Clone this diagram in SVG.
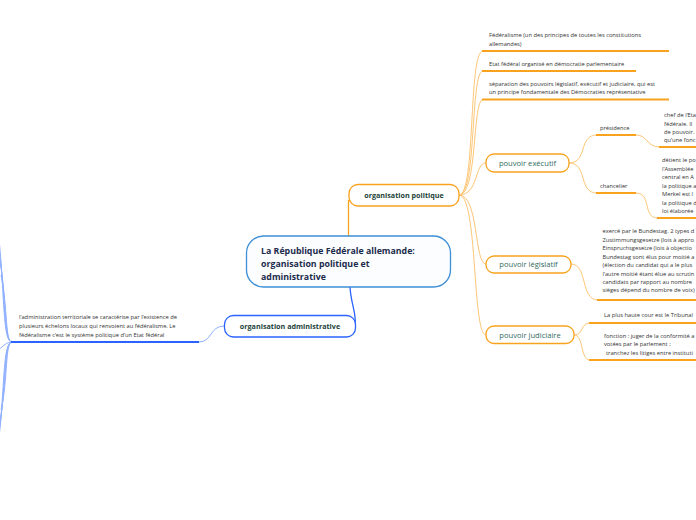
<svg xmlns="http://www.w3.org/2000/svg" width="696" height="520" viewBox="0 0 696 520">
<style>
.t{font-family:"Open Sans","Noto Sans","Liberation Sans",sans-serif;font-size:5.75px;fill:#333333}
.n{font-family:"Open Sans","Noto Sans","Liberation Sans",sans-serif;font-size:7.6px;fill:#2f6b5e}
.b{font-family:"Open Sans","Noto Sans","Liberation Sans",sans-serif;font-size:7.2px;font-weight:bold;fill:#1b4238}
.c{font-family:"Open Sans","Noto Sans","Liberation Sans",sans-serif;font-size:8.8px;font-weight:bold;fill:#1c2b4b}
.oc{fill:none;stroke:#fdc677;stroke-width:1}
.ou{fill:none;stroke:#f9a21e;stroke-width:2}
.ob{fill:#ffffff;stroke:#f9a21e;stroke-width:1.3}
.bc{fill:none;stroke:#8fb0ff;stroke-width:1}
.bu{fill:none;stroke:#2a63ff;stroke-width:2}
</style>
<rect width="696" height="520" fill="#ffffff"/>
<g id="connectors">
  <path d="M348.5,236 V200" stroke="#f9a21e" stroke-width="1.3" fill="none"/>
  <path d="M350,287 C351,305 357,314 355,326" stroke="#2a63ff" stroke-width="1.3" fill="none"/>
  <path class="oc" d="M459,195 C476,195 468,51 483,51"/>
  <path class="oc" d="M459,195 C477,195 470,71 483,71"/>
  <path class="oc" d="M459,195 C478,195 472,99.5 483,99.5"/>
  <path class="oc" d="M459,195 C479,195 474,163 486,163"/>
  <path class="oc" d="M459,195 C479,195 474,264 486,264"/>
  <path class="oc" d="M459,195 C478,195 472,335 486,335"/>
  <path class="oc" d="M569,163 C588,163 578,135 597,135"/>
  <path class="oc" d="M569,163 C588,163 578,193 597,193"/>
  <path class="oc" d="M636,135 C648,135 646,147 660,147"/>
  <path class="oc" d="M636,193 C652,193 642,218 658,218"/>
  <path class="oc" d="M571,264 C588,264 580,300 598,300"/>
  <path class="oc" d="M574,335 C584,335 580,323 590,323"/>
  <path class="oc" d="M574,335 C584,335 580,360 590,360"/>
  <path class="bc" d="M224,326 C210,326 212,342 199,342"/>
  <path class="bc" d="M12,342 C2,342 5,290 -2,230"/>
  <path class="bc" d="M12,342 C3,342 6,295 -1,250"/>
  <path class="bc" d="M12,342 C4,342 7,300 0,262"/>
  <path class="bc" d="M12,342 C5,342 8,310 1,275"/>
  <path class="bc" d="M12,342 C6,342 4,346 -2,350"/>
  <path class="bc" d="M12,342 C5,342 8,380 1,410"/>
  <path class="bc" d="M12,342 C4,342 7,385 0,420"/>
  <path class="bc" d="M12,342 C3,342 6,390 -1,432"/>
  <path class="bc" d="M12,342 C2,342 5,395 -2,445"/>
</g>
<g id="center">
  <rect x="246.5" y="236" width="204" height="51" rx="17" fill="#fbfdff" stroke="#3d8fd6" stroke-width="1.3"/>
  <text class="c" x="261" y="253.5">La République Fédérale allemande:</text>
  <text class="c" x="261" y="266.5">organisation politique et</text>
  <text class="c" x="261" y="279.5">administrative</text>
</g>
<g id="org-politique">
  <rect x="349" y="184.5" width="110" height="21.5" rx="9" class="ob"/>
  <text class="b" x="404" y="198" text-anchor="middle">organisation politique</text>
</g>
<g id="org-admin">
  <rect x="224.5" y="315.5" width="131" height="21.5" rx="9" fill="#ffffff" stroke="#2a63ff" stroke-width="1.3"/>
  <text class="b" x="290" y="329" text-anchor="middle">organisation administrative</text>
</g>
<g id="admin-text">
  <text class="t" x="19" y="319">l’administration territoriale se caractérise par l’existence de</text>
  <text class="t" x="19" y="328">plusieurs échelons locaux qui renvoient au fédéralisme. Le</text>
  <text class="t" x="19" y="336.5">fédéralisme c’est le système politique d’un Etat fédéral</text>
  <path class="bu" d="M11,342 H199"/>
</g>
<g id="federalisme">
  <text class="t" x="489" y="37">Fédéralisme (un des principes de toutes les constitutions</text>
  <text class="t" x="489" y="46">allemandes)</text>
  <path class="ou" d="M482,51 H669"/>
</g>
<g id="etat-federal">
  <text class="t" x="489" y="65.5">Etat fédéral organisé en démocratie parlementaire</text>
  <path class="ou" d="M482,71 H636"/>
</g>
<g id="separation">
  <text class="t" x="489" y="85.5">séparation des pouvoirs législatif, exécutif et judiciaire, qui est</text>
  <text class="t" x="489" y="94">un principe fondamentale des Démocraties représentative</text>
  <path class="ou" d="M482,99.5 H669"/>
</g>
<g id="pouvoir-executif">
  <rect x="486" y="154" width="83" height="18" rx="8" class="ob"/>
  <text class="n" x="527.5" y="165.8" text-anchor="middle">pouvoir exécutif</text>
</g>
<g id="presidence">
  <text class="t" x="600" y="129.8">présidence</text>
  <path class="ou" d="M596,135 H636"/>
</g>
<g id="presidence-text">
  <text class="t" x="664" y="117">chef de l’Eta</text>
  <text class="t" x="664" y="125.5">fédérale. Il</text>
  <text class="t" x="664" y="134">de pouvoir.</text>
  <text class="t" x="664" y="142">qu’une fonc</text>
  <path class="ou" d="M659,147 H697"/>
</g>
<g id="chancelier">
  <text class="t" x="600" y="188">chancelier</text>
  <path class="ou" d="M596,193 H636"/>
</g>
<g id="chancelier-text">
  <text class="t" x="662" y="162">détient le po</text>
  <text class="t" x="662" y="170.5">l’Assemblée</text>
  <text class="t" x="662" y="179">central en A</text>
  <text class="t" x="662" y="187.5">la politique a</text>
  <text class="t" x="662" y="196">Merkel est l</text>
  <text class="t" x="662" y="204.5">la politique d</text>
  <text class="t" x="662" y="213">loi élaborée</text>
  <path class="ou" d="M657,218 H697"/>
</g>
<g id="pouvoir-legislatif">
  <rect x="486" y="256" width="85" height="17" rx="8" class="ob"/>
  <text class="n" x="528.5" y="267.3" text-anchor="middle">pouvoir législatif</text>
</g>
<g id="legislatif-text">
  <text class="t" x="602.5" y="233.2">exercé par le Bundestag. 2 types d</text>
  <text class="t" x="602.5" y="241.7">Zustimmungsgesetze (lois à appro</text>
  <text class="t" x="602.5" y="250">Einspruchsgesetze (lois à objectio</text>
  <text class="t" x="602.5" y="258.5">Bundestag sont élus pour moitié a</text>
  <text class="t" x="602.5" y="267">(élection du candidat qui a le plus</text>
  <text class="t" x="602.5" y="275.5">l’autre moitié étant élue au scrutin</text>
  <text class="t" x="602.5" y="284">candidats par rapport au nombre</text>
  <text class="t" x="602.5" y="292">sièges dépend du nombre de voix)</text>
  <path class="ou" d="M597,300 H697"/>
</g>
<g id="pouvoir-judiciaire">
  <rect x="486" y="326" width="88" height="17.5" rx="8" class="ob"/>
  <text class="n" x="530" y="337.6" text-anchor="middle">pouvoir judiciaire</text>
</g>
<g id="judiciaire-text-1">
  <text class="t" x="604" y="317">La plus haute cour est le Tribunal</text>
  <path class="ou" d="M589,323 H697"/>
</g>
<g id="judiciaire-text-2">
  <text class="t" x="604" y="337.7">fonction : juger de la conformité a</text>
  <text class="t" x="604" y="345.7">votées par le parlement ;</text>
  <text class="t" x="606" y="354.5">tranchez les litiges entre instituti</text>
  <path class="ou" d="M589,360 H697"/>
</g>
</svg>
